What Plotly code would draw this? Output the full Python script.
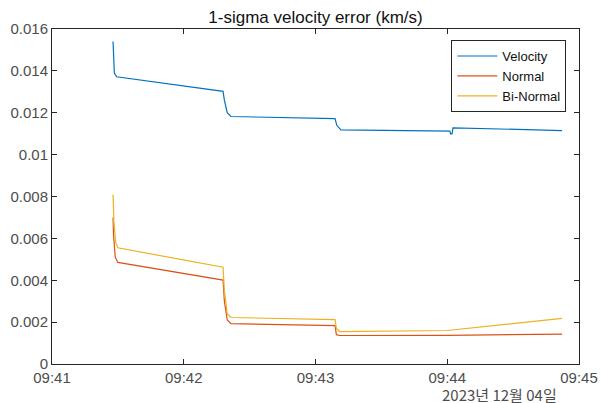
import plotly.graph_objects as go

DATE = "2023-12-04 "

vel_t = ["09:41:27.8", "09:41:28.4", "09:41:29.4", "09:42:17.9", "09:42:18.5",
         "09:42:19.8", "09:42:21.5", "09:43:08.9", "09:43:09.7", "09:43:11.6",
         "09:44:01.2", "09:44:01.6", "09:44:02.2", "09:44:02.6", "09:44:52.3"]
vel_v = [0.0154, 0.0139, 0.01372, 0.01302, 0.0126,
         0.0120, 0.01182, 0.01172, 0.0114, 0.01118,
         0.01112, 0.01098, 0.01100, 0.01128, 0.01115]

nor_t = ["09:41:27.8", "09:41:28.0", "09:41:28.8", "09:41:30.0", "09:42:17.9",
         "09:42:18.5", "09:42:19.8", "09:42:21.5", "09:43:08.9", "09:43:09.5",
         "09:43:11.0", "09:44:00.0", "09:44:52.3"]
nor_v = [0.0070, 0.0062, 0.0051, 0.00485, 0.00401,
         0.0030, 0.0021, 0.00193, 0.00183, 0.0014,
         0.00136, 0.00137, 0.00143]

bn_t = ["09:41:27.8", "09:41:28.2", "09:41:29.0", "09:41:30.0", "09:42:17.9",
        "09:42:18.5", "09:42:19.8", "09:42:21.5", "09:43:08.9", "09:43:09.5",
        "09:43:11.0", "09:44:00.0", "09:44:52.3"]
bn_v = [0.0081, 0.0068, 0.0058, 0.00555, 0.00462,
        0.0035, 0.0024, 0.00222, 0.00212, 0.0017,
        0.00155, 0.00160, 0.00218]

x_ticks = ["09:41", "09:42", "09:43", "09:44", "09:45"]
y_ticks = [0, 0.002, 0.004, 0.006, 0.008, 0.01, 0.012, 0.014, 0.016]
y_labels = ["0", "0.002", "0.004", "0.006", "0.008", "0.01", "0.012", "0.014", "0.016"]

FONT = "Liberation Sans, Arial, sans-serif"
AX = "#262626"
TXT = "#4d4d4d"

fig = go.Figure()
for name, t, v, c in [("Velocity", vel_t, vel_v, "#0072BD"),
                      ("Normal", nor_t, nor_v, "#D95319"),
                      ("Bi-Normal", bn_t, bn_v, "#EDB120")]:
    fig.add_trace(go.Scatter(x=[DATE + s for s in t], y=v, mode="lines", name=name,
                             line=dict(color=c, width=1.2)))

fig.update_layout(
    width=601, height=403,
    margin=dict(l=52, r=22, t=29, b=39, autoexpand=False),
    paper_bgcolor="white", plot_bgcolor="white",
    font=dict(family=FONT, size=15, color=TXT),
    title=dict(text="1-sigma velocity error (km/s)", x=0.5, xanchor="center",
               xref="paper", y=0.958, yanchor="middle",
               font=dict(size=17, color="#111111")),
    showlegend=True,
    legend=dict(x=0.976, y=0.967, xanchor="right", yanchor="top",
                bordercolor=AX, borderwidth=1, bgcolor="white",
                font=dict(size=13, color="#111111"), tracegroupgap=0,
                itemwidth=40),
    xaxis=dict(type="date", range=[DATE + "09:41:00", DATE + "09:45:00"],
               tickvals=[DATE + s + ":00" for s in x_ticks], ticktext=x_ticks,
               showline=True, linecolor=AX, linewidth=1, mirror="ticks",
               ticks="inside", ticklen=5, tickcolor=AX, showgrid=False,
               zeroline=False, automargin=False),
    yaxis=dict(range=[0, 0.016], tickvals=y_ticks, ticktext=y_labels,
               showline=True, linecolor=AX, linewidth=1, mirror="ticks",
               ticks="inside", ticklen=5, tickcolor=AX, showgrid=False,
               zeroline=False, automargin=False),
    annotations=[dict(text="2023년 12월 04일", xref="paper", yref="paper",
                      x=0.85, y=-0.09, xanchor="center", yanchor="middle",
                      showarrow=False,
                      font=dict(family="Noto Sans CJK KR, Liberation Sans", size=15,
                                color=TXT))],
)

fig.write_html("out.html", config={"displayModeBar": False},
               post_script="document.body.style.margin='0';document.body.style.overflow='hidden';")
